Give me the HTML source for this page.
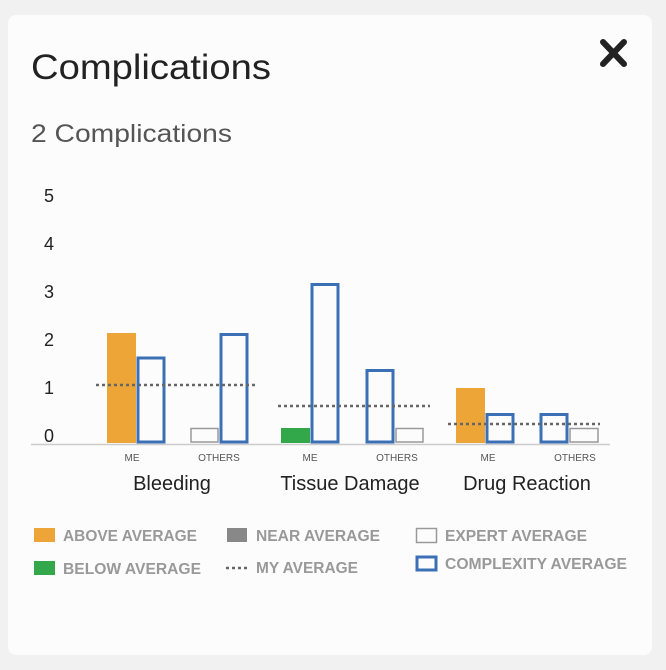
<!DOCTYPE html><html><head><style>
body{margin:0;width:666px;height:670px;background:#f1f1f1;font-family:"Liberation Sans",sans-serif;}
.card{position:absolute;left:8px;top:15px;width:644px;height:640px;background:#fcfcfc;border-radius:8px;}
</style></head><body><div class="card"></div>
<svg width="666" height="670" style="position:absolute;left:0;top:0" font-family="Liberation Sans, sans-serif">
<text x="31" y="79" font-size="35" fill="#222" textLength="240" lengthAdjust="spacingAndGlyphs">Complications</text>
<text x="31" y="142" font-size="25" fill="#555" textLength="201" lengthAdjust="spacingAndGlyphs">2 Complications</text>
<g stroke="#222" stroke-width="6" stroke-linecap="round"><line x1="603" y1="42" x2="624" y2="64"/><line x1="624" y1="42" x2="603" y2="64"/></g>
<g font-size="18" fill="#222" text-anchor="middle">
<text x="49" y="202">5</text><text x="49" y="250">4</text><text x="49" y="298">3</text><text x="49" y="346">2</text><text x="49" y="394">1</text><text x="49" y="442">0</text></g>
<line x1="31" y1="444.5" x2="610" y2="444.5" stroke="#ccc" stroke-width="1.5"/>
<rect x="107" y="333" width="29" height="110" fill="#eda538"/>
<rect x="138" y="358" width="26" height="84" fill="none" stroke="#3b6fb6" stroke-width="3"/>
<rect x="191" y="428.5" width="27" height="13.5" fill="none" stroke="#999" stroke-width="1.5"/>
<rect x="221" y="334.5" width="26" height="107.5" fill="none" stroke="#3b6fb6" stroke-width="3"/>
<rect x="281" y="428" width="29" height="15" fill="#33a84a"/>
<rect x="312" y="284.5" width="26" height="157.5" fill="none" stroke="#3b6fb6" stroke-width="3"/>
<rect x="367" y="370.5" width="26" height="71.5" fill="none" stroke="#3b6fb6" stroke-width="3"/>
<rect x="396" y="428.5" width="27" height="13.5" fill="none" stroke="#999" stroke-width="1.5"/>
<rect x="456" y="388" width="29" height="55" fill="#eda538"/>
<rect x="487" y="414.5" width="26" height="27.5" fill="none" stroke="#3b6fb6" stroke-width="3"/>
<rect x="541" y="414.5" width="26" height="27.5" fill="none" stroke="#3b6fb6" stroke-width="3"/>
<rect x="570" y="428.5" width="28" height="13.5" fill="none" stroke="#999" stroke-width="1.5"/>
<g stroke="#666" stroke-width="2.5" stroke-dasharray="3,3">
<line x1="96" y1="385" x2="258" y2="385"/><line x1="278" y1="406" x2="430" y2="406"/><line x1="448" y1="424" x2="600" y2="424"/></g>
<g font-size="10" fill="#555" text-anchor="middle">
<text x="132" y="461">ME</text><text x="219" y="461">OTHERS</text><text x="310" y="461">ME</text><text x="397" y="461">OTHERS</text><text x="488" y="461">ME</text><text x="575" y="461">OTHERS</text></g>
<g font-size="20" fill="#222" text-anchor="middle">
<text x="172" y="490">Bleeding</text><text x="350" y="490">Tissue Damage</text><text x="527" y="490">Drug Reaction</text></g>
<g font-size="15.5" fill="#999" font-weight="bold">
<rect x="34" y="528" width="21" height="14" fill="#eda538"/><text x="63" y="541" textLength="134" lengthAdjust="spacingAndGlyphs">ABOVE AVERAGE</text>
<rect x="34" y="561" width="21" height="14" fill="#33a84a"/><text x="63" y="574" textLength="138" lengthAdjust="spacingAndGlyphs">BELOW AVERAGE</text>
<rect x="227" y="528" width="20" height="14" fill="#888"/><text x="256" y="541" textLength="124" lengthAdjust="spacingAndGlyphs">NEAR AVERAGE</text>
<line x1="226" y1="568" x2="247" y2="568" stroke="#666" stroke-width="2.5" stroke-dasharray="3,3"/><text x="256" y="573" textLength="102" lengthAdjust="spacingAndGlyphs">MY AVERAGE</text>
<rect x="416.5" y="528.5" width="20" height="14" fill="none" stroke="#999" stroke-width="1.5"/><text x="445" y="541" textLength="142" lengthAdjust="spacingAndGlyphs">EXPERT AVERAGE</text>
<rect x="417" y="557" width="19" height="13" fill="none" stroke="#3b6fb6" stroke-width="3"/><text x="445" y="569" textLength="182" lengthAdjust="spacingAndGlyphs">COMPLEXITY AVERAGE</text>
</g></svg></body></html>
